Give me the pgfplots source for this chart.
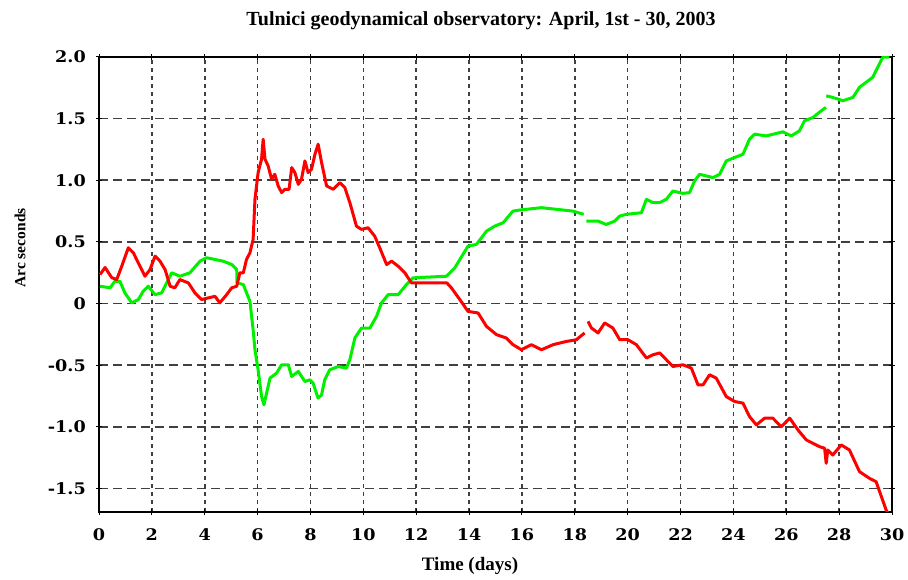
\documentclass[border=0pt]{standalone}
\usepackage{fontspec}
\setmainfont{Liberation Serif}
\newfontfamily\tickfont[FakeStretch=1.1]{DejaVu Serif}
\usepackage{pgfplots}
\pgfplotsset{compat=1.18}
\definecolor{pgreen}{RGB}{0,240,0}
\definecolor{pred}{RGB}{255,0,0}
\begin{document}
\begin{tikzpicture}[x=1pt,y=1pt]
\useasboundingbox (0,0) rectangle (908,580);
\begin{axis}[
  at={(99pt,68pt)}, anchor=south west,
  scale only axis, width=793pt, height=455pt,
  xmin=0, xmax=30, ymin=-1.69, ymax=2.0,
  xtick={0,2,4,6,8,10,12,14,16,18,20,22,24,26,28,30},
  xticklabels={0,2,4,6,8,10,12,14,16,18,20,22,24,26,28,30},
  ytick={-1.5,-1,-0.5,0,0.5,1,1.5,2},
  yticklabels={-1.5,-1.0,-0.5,0,0.5,1.0,1.5,2.0},
  grid=major,
  grid style={black!75, line width=1.6pt},
  every axis x grid/.append style={dash pattern=on 4pt off 4pt},
  every axis y grid/.append style={dash pattern=on 9pt off 5pt},
  axis line style={black, line width=1.5pt},
  major tick length=6pt, tick align=center,
  tick style={black, line width=1pt},
  tick label style={font=\tickfont\bfseries\fontsize{16}{16}\selectfont, inner sep=0pt},
  yticklabel style={anchor=east, xshift=-10pt},
  xticklabel style={anchor=north, yshift=-13pt},
  unbounded coords=jump,
  clip=true,
]
\addplot[pgreen, line width=3pt, line join=round] coordinates {
(0.04,0.141) (0.42,0.128) (0.60,0.181) (0.79,0.181) (0.98,0.087) (1.24,0.006)
(1.49,0.033) (1.67,0.100) (1.86,0.141) (2.12,0.073) (2.37,0.087) (2.56,0.168)
(2.75,0.250) (3.06,0.222) (3.44,0.250) (3.82,0.344) (4.07,0.372) (4.70,0.344)
(5.02,0.317) (5.21,0.276) (5.22,0.168) (5.46,0.154) (5.71,0.019) (5.83,-0.211)
(5.90,-0.374) (6.02,-0.537) (6.15,-0.754) (6.24,-0.821) (6.34,-0.726) (6.47,-0.604)
(6.72,-0.563) (6.91,-0.496) (7.16,-0.496) (7.29,-0.591) (7.54,-0.550) (7.79,-0.632)
(7.98,-0.618) (8.10,-0.645) (8.29,-0.767) (8.42,-0.740) (8.54,-0.618) (8.73,-0.537)
(9.05,-0.510) (9.36,-0.523) (9.49,-0.455) (9.68,-0.279) (9.93,-0.198) (10.25,-0.198)
(10.50,-0.103) (10.69,0.006) (10.94,0.073) (11.32,0.073) (11.63,0.154) (11.88,0.209)
(13.15,0.222) (13.46,0.290) (13.96,0.466) (14.28,0.480) (14.66,0.588) (14.97,0.628)
(15.29,0.656) (15.66,0.750) (15.92,0.759) (16.74,0.778) (17.93,0.750) (18.34,0.724)
(18.39,nan)
(18.44,0.669) (18.88,0.669) (19.19,0.642) (19.51,0.669) (19.70,0.710) (19.95,0.724)
(20.52,0.737) (20.71,0.846) (20.96,0.819) (21.21,0.819) (21.46,0.846) (21.71,0.913)
(22.09,0.894) (22.34,0.900) (22.53,0.994) (22.72,1.049) (22.98,1.035) (23.23,1.022)
(23.48,1.049) (23.73,1.157) (24.05,1.185) (24.36,1.211) (24.61,1.333) (24.80,1.374)
(25.24,1.360) (25.87,1.393) (26.19,1.360) (26.50,1.401) (26.69,1.482) (27.01,1.510)
(27.32,1.563) (27.50,1.591)
(27.505,nan)
(27.51,1.685) (27.76,1.672) (28.14,1.645) (28.52,1.672) (28.77,1.754) (29.27,1.835)
(29.46,1.916) (29.65,1.998) (29.90,2.00)
};
\addplot[pred, line width=3pt, line join=round] coordinates {
(0.04,0.236) (0.23,0.293) (0.48,0.211) (0.67,0.195) (0.86,0.303) (1.11,0.453)
(1.30,0.412) (1.55,0.303) (1.74,0.222) (1.93,0.276) (2.12,0.385) (2.31,0.344)
(2.50,0.276) (2.69,0.141) (2.87,0.128) (3.06,0.195) (3.38,0.168) (3.63,0.087)
(3.88,0.033) (4.13,0.046) (4.39,0.059) (4.57,0.006) (4.83,0.073) (5.02,0.128)
(5.21,0.141) (5.33,0.250) (5.46,0.250) (5.58,0.358) (5.71,0.412) (5.83,0.520)
(5.90,0.846) (6.02,1.063) (6.15,1.171) (6.21,1.333) (6.28,1.171) (6.40,1.116)
(6.53,1.008) (6.65,1.049) (6.78,0.954) (6.91,0.900) (7.03,0.927) (7.19,0.927)
(7.29,1.103) (7.41,1.063) (7.54,0.967) (7.66,1.008) (7.79,1.157) (7.91,1.063)
(8.04,1.089) (8.17,1.211) (8.29,1.293) (8.42,1.144) (8.61,0.954) (8.86,0.927)
(9.11,0.981) (9.30,0.941) (9.49,0.819) (9.74,0.628) (9.93,0.602) (10.18,0.615)
(10.43,0.547) (10.62,0.453) (10.88,0.317) (11.07,0.344) (11.32,0.303) (11.57,0.250)
(11.82,0.168) (12.01,0.168) (13.16,0.168) (13.33,0.128) (13.65,0.033) (13.96,-0.063)
(14.34,-0.076) (14.66,-0.185) (15.04,-0.252) (15.41,-0.279) (15.66,-0.333) (15.98,-0.374)
(16.36,-0.333) (16.74,-0.374) (17.18,-0.333) (17.68,-0.307) (18.06,-0.293) (18.37,-0.238)
(18.43,nan)
(18.50,-0.144) (18.63,-0.198) (18.88,-0.238) (19.13,-0.157) (19.44,-0.198) (19.70,-0.293)
(20.01,-0.293) (20.33,-0.333) (20.71,-0.441) (20.96,-0.415) (21.21,-0.400) (21.40,-0.441)
(21.71,-0.510) (22.09,-0.496) (22.41,-0.523) (22.66,-0.659) (22.85,-0.659) (23.10,-0.577)
(23.35,-0.604) (23.73,-0.754) (24.05,-0.794) (24.36,-0.807) (24.61,-0.916) (24.87,-0.984)
(25.18,-0.929) (25.49,-0.929) (25.81,-0.998) (26.13,-0.929) (26.44,-1.024) (26.76,-1.106)
(27.26,-1.160) (27.45,-1.173) (27.51,-1.295) (27.57,-1.187) (27.76,-1.228) (28.08,-1.146)
(28.39,-1.187) (28.77,-1.363) (29.15,-1.417) (29.40,-1.445) (29.78,-1.675) (29.91,-1.72)
};
\end{axis}
\node[anchor=base, font=\bfseries\fontsize{20}{24}\selectfont] at (481,554) {Tulnici geodynamical observatory: April, 1st - 30, 2003};
\node[rotate=90, font=\bfseries\fontsize{15.5}{18}\selectfont] at (20,332) {Arc seconds};
\node[anchor=base, font=\bfseries\fontsize{19}{22}\selectfont] at (470,9) {Time (days)};
\end{tikzpicture}
\end{document}
